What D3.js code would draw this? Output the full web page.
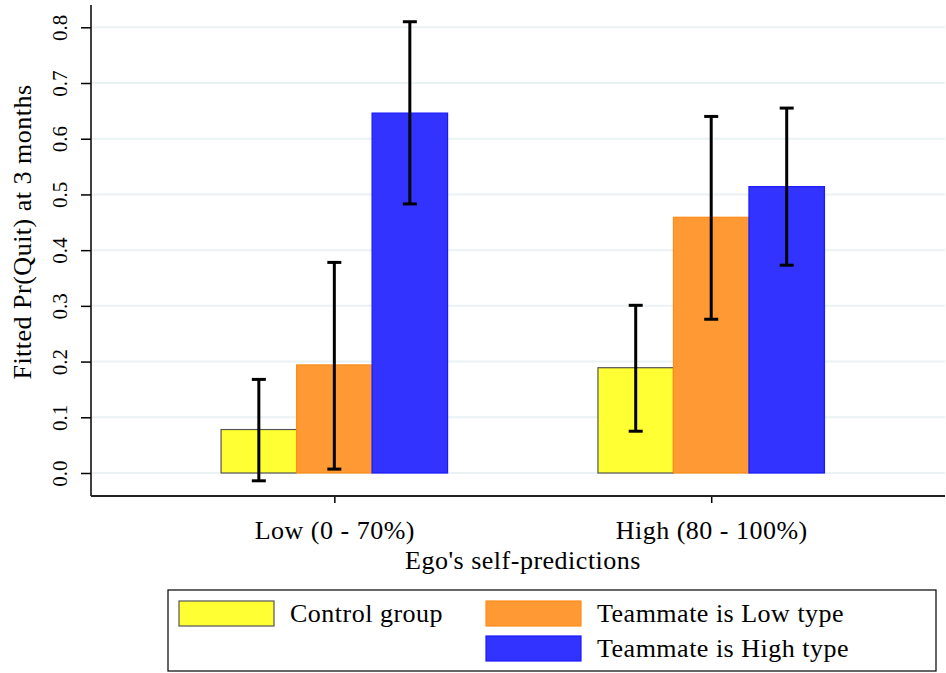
<!DOCTYPE html>
<html>
<head>
<meta charset="utf-8">
<script src="https://cdn.jsdelivr.net/npm/d3@7"></script>
<style>
  body { margin: 0; background: #fff; }
  svg { display: block; font-family: "Liberation Serif", "DejaVu Serif", serif; }
</style>
</head>
<body>
<svg width="946" height="673"></svg>
<script>
// data
var groups = ["Low (0 - 70%)", "High (80 - 100%)"];
var series = ["Control group", "Teammate is Low type", "Teammate is High type"];
var means = [[0.078, 0.189], [0.194, 0.459], [0.646, 0.514]];
var lower = [[-0.014, 0.075], [0.007, 0.276], [0.483, 0.373]];
var upper = [[0.168, 0.301], [0.378, 0.640], [0.810, 0.655]];
var yTicks = [0, 0.1, 0.2, 0.3, 0.4, 0.5, 0.6, 0.7, 0.8];

var fills = ["#ffff33", "#ff9933", "#3333ff"];
var strokes = ["#555555", "#ff8c1a", "#1a1aff"];

var svg = d3.select("svg");

var plot = {left: 91, right: 945, top: 5, bottom: 496};

var y = d3.scaleLinear().domain([0, 0.8]).range([473, 27.3]);

var x = d3.scalePoint()
    .domain(groups)
    .range([plot.left, plot.right])
    .padding(0.633)
    .align(0.51);

var xs = d3.scaleBand()
    .domain(series)
    .range([-113.25, 113.25]);

// gridlines
svg.append("g")
  .selectAll("line")
  .data(yTicks)
  .enter().append("line")
    .attr("x1", plot.left + 1)
    .attr("x2", plot.right)
    .attr("y1", d => y(d))
    .attr("y2", d => y(d))
    .attr("stroke", "#eaf2f3")
    .attr("stroke-width", 2);

// bars
var rows = [];
series.forEach((s, si) => {
  groups.forEach((g, gi) => {
    rows.push({s: s, si: si, g: g, v: means[si][gi], lo: lower[si][gi], hi: upper[si][gi]});
  });
});

svg.append("g")
  .selectAll("rect")
  .data(rows)
  .enter().append("rect")
    .attr("x", d => x(d.g) + xs(d.s))
    .attr("width", xs.bandwidth())
    .attr("y", d => y(d.v))
    .attr("height", d => y(0) - y(d.v))
    .attr("fill", d => fills[d.si])
    .attr("stroke", d => strokes[d.si])
    .attr("stroke-width", 1.2);

// error bars
var err = svg.append("g")
  .selectAll("g")
  .data(rows)
  .enter().append("g")
    .attr("transform", d => "translate(" + (x(d.g) + xs(d.s) + xs.bandwidth() / 2) + ",0)");

err.append("line")
    .attr("y1", d => y(d.lo))
    .attr("y2", d => y(d.hi))
    .attr("stroke", "#000")
    .attr("stroke-width", 3);
err.append("line")
    .attr("x1", -7).attr("x2", 7)
    .attr("y1", d => y(d.hi)).attr("y2", d => y(d.hi))
    .attr("stroke", "#000").attr("stroke-width", 3);
err.append("line")
    .attr("x1", -7).attr("x2", 7)
    .attr("y1", d => y(d.lo)).attr("y2", d => y(d.lo))
    .attr("stroke", "#000").attr("stroke-width", 3);

// y axis
var yAxis = svg.append("g")
    .attr("transform", "translate(" + plot.left + ",0)")
    .call(d3.axisLeft(y).tickValues(yTicks).tickSize(10).tickFormat(d3.format(".1f")));
yAxis.select(".domain").remove();
yAxis.selectAll(".tick line").attr("stroke", "#000").attr("stroke-width", 1.5);
yAxis.selectAll(".tick text")
    .attr("font-family", "Liberation Serif, serif")
    .attr("font-size", 21)
    .attr("fill", "#000")
    .attr("x", null).attr("dy", null)
    .attr("text-anchor", "middle")
    .attr("transform", "translate(-24,0) rotate(-90)");

svg.append("line")
    .attr("x1", plot.left).attr("x2", plot.left)
    .attr("y1", plot.top).attr("y2", plot.bottom)
    .attr("stroke", "#000").attr("stroke-width", 1.5);

// x axis
var xAxis = svg.append("g")
    .attr("transform", "translate(0," + plot.bottom + ")")
    .call(d3.axisBottom(x).tickSize(7).tickPadding(18));
xAxis.select(".domain").remove();
xAxis.selectAll(".tick line").attr("stroke", "#000").attr("stroke-width", 1.5);
xAxis.selectAll(".tick text")
    .attr("font-family", "Liberation Serif, serif")
    .attr("font-size", 26)
    .attr("letter-spacing", 0.5)
    .attr("fill", "#000");

svg.append("line")
    .attr("x1", plot.left).attr("x2", plot.right)
    .attr("y1", plot.bottom).attr("y2", plot.bottom)
    .attr("stroke", "#222").attr("stroke-width", 1.8);

// axis titles
svg.append("text")
    .attr("x", 523).attr("y", 569)
    .attr("text-anchor", "middle")
    .attr("font-size", 26)
    .attr("letter-spacing", 0.5)
    .text("Ego's self-predictions");

svg.append("text")
    .attr("transform", "translate(31,232) rotate(-90)")
    .attr("text-anchor", "middle")
    .attr("font-size", 26)
    .attr("letter-spacing", 0.5)
    .text("Fitted Pr(Quit) at 3 months");

// legend
var legend = svg.append("g").attr("class", "legend");
legend.append("rect")
    .attr("x", 168).attr("y", 590)
    .attr("width", 768).attr("height", 81)
    .attr("fill", "#fff")
    .attr("stroke", "#000")
    .attr("stroke-width", 1.2);

var legendPos = [[179, 601], [486, 601], [486, 636]];
series.forEach((s, i) => {
  var item = legend.append("g")
      .attr("transform", "translate(" + legendPos[i][0] + "," + legendPos[i][1] + ")");
  item.append("rect")
      .attr("width", 95).attr("height", 25)
      .attr("fill", fills[i])
      .attr("stroke", strokes[i])
      .attr("stroke-width", 1.2);
  item.append("text")
      .attr("x", 111).attr("y", 21)
      .attr("font-size", 26)
      .attr("letter-spacing", 0.5)
      .text(s);
});
</script>
</body>
</html>
